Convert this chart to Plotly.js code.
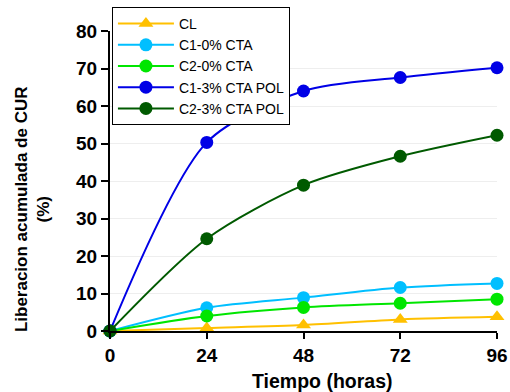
<!DOCTYPE html>
<html><head><meta charset="utf-8">
<script src="https://cdn.plot.ly/plotly-3.0.1.min.js"></script>
<style>body{margin:0;background:#fff}#c{width:510px;height:392px}</style>
</head><body><div id="c"></div>
<script>
const hours = [0, 24, 48, 72, 96];
const seriesNames = ["CL", "C1-0% CTA", "C2-0% CTA", "C1-3% CTA POL", "C2-3% CTA POL"];
const CL = [0, 0.8, 1.6, 3.1, 3.8];
const C1_0 = [0, 6.2, 8.9, 11.6, 12.7];
const C2_0 = [0, 4.0, 6.3, 7.4, 8.5];
const C1_3 = [0, 50.3, 64.0, 67.6, 70.2];
const C2_3 = [0, 24.6, 38.9, 46.6, 52.2];
const tickVals = [0, 24, 48, 72, 96];
const xTitle = "Tiempo (horas)";
const yTitle = "Liberacion acumulada de CUR<br>(%)";

const FONT = "Arial, Liberation Sans, sans-serif";
const colors = ["#FFC000", "#00BFFF", "#00E600", "#0000E6", "#005A00"];
const symbols = ["triangle-up", "circle", "circle", "circle", "circle"];
const data = [CL, C1_0, C2_0, C1_3, C2_3].map((ys, i) => ({
  x: hours, y: ys, name: seriesNames[i], type: "scatter", mode: "lines+markers",
  line: {color: colors[i], width: 2, shape: "spline", smoothing: 0.8},
  marker: {color: colors[i], size: 13, symbol: symbols[i]},
  cliponaxis: false
}));

const layout = {
  width: 510, height: 392,
  margin: {l: 110, r: 13, t: 31, b: 61, autoexpand: false},
  paper_bgcolor: "#fff", plot_bgcolor: "#fff",
  font: {family: FONT, color: "#000"},
  showlegend: true,
  legend: {x: 0.005, y: 1.08, xanchor: "left", yanchor: "top",
    bgcolor: "#fff", bordercolor: "#000", borderwidth: 1,
    font: {size: 14, family: FONT},
    itemwidth: 56, tracegroupgap: 0},
  xaxis: {range: [0, 96], tickvals: tickVals, ticktext: tickVals.map(String),
    showline: true, linecolor: "#000", linewidth: 2, ticks: "outside", ticklen: 6, tickwidth: 2,
    tickcolor: "#000", showgrid: false, zeroline: false, automargin: false,
    tickfont: {size: 19, family: FONT, weight: "bold"}},
  yaxis: {range: [0, 80], dtick: 10,
    showline: true, linecolor: "#000", linewidth: 2, ticks: "outside", ticklen: 7, tickwidth: 2,
    tickcolor: "#000", showgrid: true, gridcolor: "#eeeeee", gridwidth: 1, zeroline: false, automargin: false,
    tickfont: {size: 19, family: FONT, weight: "bold"}},
  annotations: [
    {text: "<b>" + xTitle + "</b>", xref: "paper", yref: "paper", x: 0.55, y: -0.165,
     xanchor: "center", yanchor: "middle", showarrow: false, font: {size: 19.5, family: FONT}},
    {text: "<b>" + yTitle + "</b>", xref: "paper", yref: "paper", x: -0.2, y: 0.405,
     xanchor: "center", yanchor: "middle", textangle: -90, showarrow: false,
     font: {size: 17, family: FONT}}
  ]
};
Plotly.newPlot("c", data, layout, {displayModeBar: false, staticPlot: true});
</script></body></html>
